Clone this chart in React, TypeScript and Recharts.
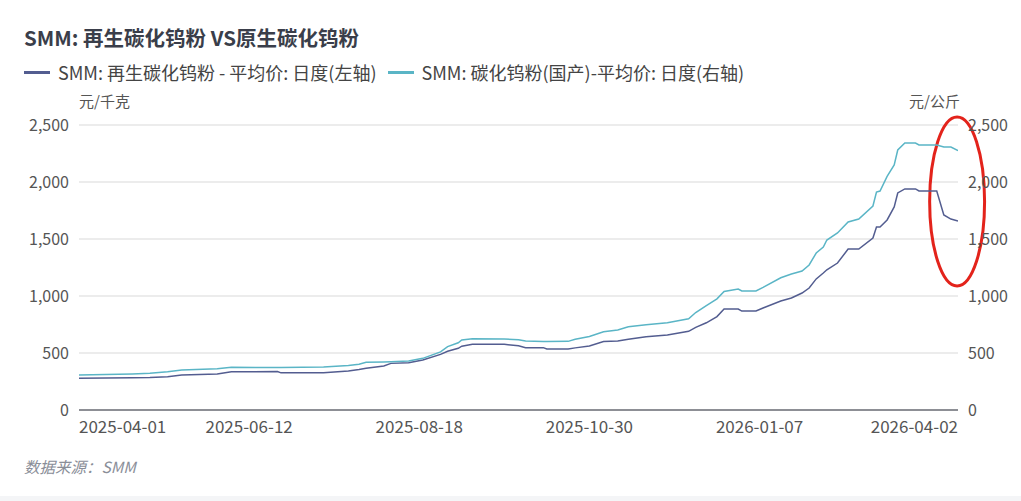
import React from 'react';
import { LineChart, Line, XAxis, YAxis, CartesianGrid, ReferenceArea } from 'recharts';

// trading-day index (0 = 2025-04-01) of each reading
const dayIndex = [0, 15, 20, 25, 29, 39, 43, 56, 57, 69, 76, 79, 81, 86, 88, 93, 97, 102, 104, 107, 108, 111, 120, 124, 126, 131, 132, 138, 140, 144, 148, 152, 155, 160, 166, 172, 174, 177, 180, 182, 186, 187, 191, 193, 198, 201, 204, 206, 208, 210, 211, 214, 217, 220, 224, 225, 226, 228, 230, 231, 233, 236, 237, 242, 244, 246, 248];
// SMM: 再生碳化钨粉 - 平均价 (元/千克)
const recycledPrice = [278, 282, 284, 292, 307, 316, 336, 337, 326, 327, 342, 355, 366, 386, 409, 415, 439, 488, 515, 541, 560, 576, 576, 564, 547, 547, 535, 535, 545, 561, 600, 605, 620, 643, 658, 690, 725, 765, 819, 886, 886, 868, 868, 895, 956, 982, 1026, 1070, 1150, 1202, 1230, 1289, 1412, 1412, 1509, 1605, 1605, 1667, 1781, 1904, 1939, 1939, 1921, 1921, 1711, 1675, 1658];
// SMM: 碳化钨粉(国产) - 平均价 (元/公斤)
const primaryPrice = [307, 316, 322, 336, 351, 362, 374, 372, 372, 378, 390, 401, 418, 422, 424, 430, 453, 510, 556, 590, 614, 626, 623, 616, 605, 600, 600, 602, 620, 645, 687, 702, 731, 748, 766, 800, 855, 915, 975, 1040, 1061, 1044, 1044, 1075, 1160, 1193, 1219, 1272, 1377, 1430, 1491, 1553, 1649, 1675, 1789, 1912, 1921, 2050, 2149, 2281, 2342, 2342, 2325, 2325, 2307, 2307, 2275];

const tickIndex = [0, 48, 96, 144, 192, 248];
const tickLabels = ['2025-04-01', '2025-06-12', '2025-08-18', '2025-10-30', '2026-01-07', '2026-04-02'];
const yTicks = [0, 500, 1000, 1500, 2000, 2500];

const chartData = dayIndex.map((d, i) => ({ idx: d, recycled: recycledPrice[i], primary: primaryPrice[i] }));

const FONT = '"Noto Sans CJK SC", "Noto Sans", sans-serif';
const DARK = '#535d90';
const CYAN = '#5ab5c6';

const XTick = (props: any) => {
  const { x, y, payload } = props;
  const pos = tickIndex.indexOf(payload.value);
  const anchor = pos === 0 ? 'start' : pos === tickIndex.length - 1 ? 'end' : 'middle';
  return (
    <text x={x} y={y} dy="0.71em" textAnchor={anchor} fill="#555" fontSize={17} fontFamily={FONT}>
      {tickLabels[pos]}
    </text>
  );
};

const Ellipse = (props: any) => {
  const { x, y, width, height } = props;
  return (
    <ellipse cx={x + width / 2} cy={y + height / 2} rx={width / 2} ry={height / 2} fill="none" stroke="#e3231b" strokeWidth={3} />
  );
};

const fmt = (v: number) => v.toLocaleString('en-US');

export default function App() {
  return (
    <div style={{ position: 'absolute', left: 0, top: 0, width: 1021, height: 501, background: '#fff', fontFamily: FONT, overflow: 'hidden' }}>
      <div style={{ position: 'absolute', left: 24, top: 22, fontSize: 20.5, fontWeight: 700, color: '#3a3e4a', whiteSpace: 'nowrap' }}>
        SMM: 再生碳化钨粉 VS原生碳化钨粉
      </div>
      <div style={{ position: 'absolute', left: 24, top: 59, fontSize: 18, color: '#444', whiteSpace: 'nowrap', display: 'flex', alignItems: 'center' }}>
        <span style={{ display: 'inline-block', width: 26, height: 3, background: DARK, marginRight: 8 }} />
        <span>SMM: 再生碳化钨粉 - 平均价: 日度(左轴)</span>
        <span style={{ display: 'inline-block', width: 26, height: 3, background: CYAN, marginLeft: 11, marginRight: 8 }} />
        <span>SMM: 碳化钨粉(国产)-平均价: 日度(右轴)</span>
      </div>
      <div style={{ position: 'absolute', left: 79, top: 90, fontSize: 15, color: '#555', whiteSpace: 'nowrap' }}>元/千克</div>
      <div style={{ position: 'absolute', right: 1021 - 960, top: 90, fontSize: 15, color: '#555', whiteSpace: 'nowrap' }}>元/公斤</div>
      <div style={{ position: 'absolute', left: 0, top: 0 }}>
        <LineChart width={1021} height={501} data={chartData} margin={{ top: 125, right: 3, bottom: 61, left: 19 }}>
          <CartesianGrid vertical={false} stroke="#e6e6e6" strokeWidth={1.5} yAxisId="left" />
          <XAxis
            type="number"
            dataKey="idx"
            domain={[0, 248]}
            ticks={tickIndex}
            tick={<XTick />}
            tickLine={false}
            tickSize={0}
            tickMargin={11}
            height={30}
            axisLine={{ stroke: '#6e7079', strokeWidth: 1.5 }}
            allowDataOverflow
          />
          <YAxis
            yAxisId="left"
            domain={[0, 2500]}
            ticks={yTicks}
            tickFormatter={fmt}
            axisLine={false}
            tickLine={false}
            tickSize={0}
            tickMargin={10}
            width={60}
            tick={{ fill: '#555', fontSize: 16, fontFamily: FONT }}
          />
          <YAxis
            yAxisId="right"
            orientation="right"
            domain={[0, 2500]}
            ticks={yTicks}
            tickFormatter={fmt}
            axisLine={false}
            tickLine={false}
            tickSize={0}
            tickMargin={10}
            width={60}
            tick={{ fill: '#555', fontSize: 16, fontFamily: FONT }}
          />
          <Line yAxisId="left" type="linear" dataKey="recycled" stroke={DARK} strokeWidth={1.5} dot={false} isAnimationActive={false} />
          <Line yAxisId="right" type="linear" dataKey="primary" stroke={CYAN} strokeWidth={1.5} dot={false} isAnimationActive={false} />
          <ReferenceArea yAxisId="left" x1={240} x2={255.5} y1={1088} y2={2570} ifOverflow="visible" shape={<Ellipse />} />
        </LineChart>
      </div>
      <div style={{ position: 'absolute', left: 24, top: 455, fontSize: 15.5, fontStyle: 'italic', color: '#8a8e98', whiteSpace: 'nowrap' }}>
        数据来源：SMM
      </div>
      <div style={{ position: 'absolute', left: 0, top: 496, width: 1021, height: 5, background: '#f4f5f7' }} />
    </div>
  );
}
